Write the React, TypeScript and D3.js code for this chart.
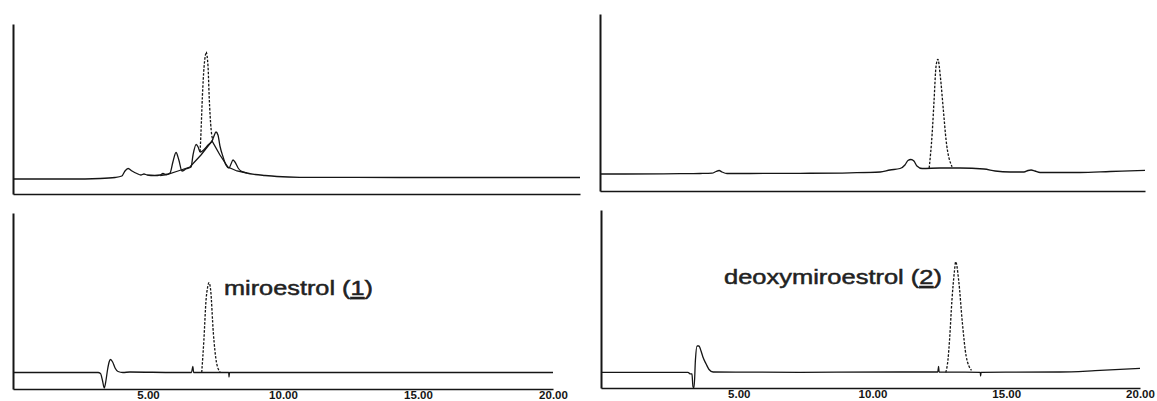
import React, { useEffect, useRef } from 'react';
import * as d3 from 'd3';

type Pt = [number, number];

// retention time ticks (min)
const TIME_TICKS = [5, 10, 15, 20];

// ---- top-left: sample chromatogram (time min, signal) ----
const TL_TRACE: Pt[] = [
  [0, 0], [2.01, 0], [3.07, 0.5], [3.6, 1.5], [3.84, 3], [3.95, 8], [4.06, 10.5], [4.2, 8],
  [4.37, 5.5], [4.51, 4], [4.62, 5], [4.73, 4], [5.0, 3.5], [5.19, 4], [5.29, 5.5], [5.4, 4.5],
  [5.54, 6], [5.64, 17], [5.75, 26.5], [5.85, 19], [5.96, 8], [6.1, 10], [6.28, 12], [6.35, 24],
  [6.46, 34.5], [6.53, 32], [6.6, 27], [6.74, 29.5], [6.88, 34], [7.02, 38], [7.09, 43], [7.16, 47],
  [7.23, 44], [7.3, 33], [7.41, 22], [7.51, 14], [7.62, 11], [7.69, 15], [7.76, 19], [7.83, 17],
  [7.94, 11], [8.04, 8], [8.25, 6], [8.54, 4.5], [8.89, 3.5], [9.31, 2.5], [10.12, 1.7], [13.65, 1.5],
  [20, 1.5],
];
const TL_HUMP: Pt[] = [
  [5.19, 3.5], [5.43, 4.5], [5.82, 8], [6.24, 12], [6.63, 24], [7.02, 38], [7.3, 24], [7.58, 12],
  [7.9, 8], [8.25, 6],
];
const TL_PEAK: Pt[] = [
  [6.6, 27.3], [6.63, 46], [6.68, 82.3], [6.74, 112.3], [6.8, 125.7], [6.81, 127], [6.88, 112.3],
  [6.92, 82.3], [6.99, 49], [7.05, 39],
];

// ---- bottom-left: miroestrol standard ----
const BL_TRACE: Pt[] = [
  [0, 0], [1.74, 0], [3.15, 0], [3.24, -1], [3.31, -7.5], [3.38, -15.5], [3.44, -8.5], [3.5, 2.5],
  [3.56, 10.5], [3.61, 13], [3.69, 10.5], [3.78, 4.5], [3.89, 1], [4.07, 0], [4.33, 0.5], [6.0, 0],
  [6.61, 0], [6.66, 6], [6.69, 0], [7.99, 0], [8.0, -4.5], [8.02, 0], [20, 0],
];
const BL_PEAK: Pt[] = [
  [6.99, 0], [7.07, 32.5], [7.15, 72.5], [7.21, 85.5], [7.26, 89.8], [7.32, 82.5], [7.42, 39.5],
  [7.54, 9.5], [7.67, 0.5],
];

// ---- top-right: sample chromatogram ----
const TR_TRACE: Pt[] = [
  [0, 0], [0.92, 0], [2.94, 0.3], [3.67, 0.5], [4.11, 0.8], [4.26, 2.5], [4.37, 3.5], [4.48, 2],
  [4.66, 0.5], [5.5, 0.5], [7.34, 0.7], [9.17, 1.2], [10.28, 2], [10.64, 4], [11.01, 5.5], [11.19, 9],
  [11.3, 13.5], [11.41, 14.5], [11.52, 13], [11.63, 8], [11.82, 5.5], [12.48, 6], [13.21, 6],
  [14.09, 5], [14.5, 3], [15.05, 2], [15.56, 2], [15.71, 3.5], [15.82, 4], [15.96, 3], [16.15, 1.5],
  [17.61, 1.5], [18.72, 2.5], [20, 3.7],
];
const TR_PEAK: Pt[] = [
  [12.08, 6], [12.19, 40.7], [12.26, 74], [12.33, 107.3], [12.4, 114.7], [12.49, 97.3], [12.6, 64],
  [12.7, 34], [12.92, 7.3],
];

// ---- bottom-right: deoxymiroestrol standard ----
const BR_TRACE: Pt[] = [
  [-0.15, 0], [1.68, 0], [3.1, 0], [3.18, -1.5], [3.25, -1.7], [3.29, -14.7], [3.33, -15.2],
  [3.38, 12.3], [3.44, 26.3], [3.51, 26.3], [3.59, 21.3], [3.66, 15.3], [3.78, 8.3], [3.89, 2.8],
  [4.04, 0.3], [7.29, 0], [11.03, 0.3], [12.44, 0.3], [12.47, 5.8], [12.49, 0.3], [14.03, 0],
  [14.04, -3.7], [14.06, 0], [17.0, 0.3], [18.32, 1.6], [20, 4],
];
const BR_PEAK: Pt[] = [
  [12.74, 0], [12.82, 12.3], [12.88, 32.3], [12.97, 72.3], [13.06, 100.3], [13.11, 110.6],
  [13.22, 92.3], [13.36, 49.3], [13.5, 16.3], [13.7, 2],
];

const LABEL_MIRO = ['miroestrol (', '1', ')'];
const LABEL_DEOXY = ['deoxymiroestrol (', '2', ')'];

interface Panel {
  xRange: [number, number];
  tDomain: [number, number];
  yRange: [number, number];
  vDomain: [number, number];
  smooth: Pt[][];
  straight: Pt[][];
  dashed: Pt[][];
  ticks: boolean;
  label?: { parts: string[]; x: number; y: number; len: number };
}

const PANELS: Panel[] = [
  {
    xRange: [13, 580], tDomain: [0, 20], yRange: [194, 24], vDomain: [-15, 155],
    smooth: [TL_TRACE], straight: [TL_HUMP], dashed: [TL_PEAK], ticks: false,
  },
  {
    xRange: [13, 553], tDomain: [0, 20], yRange: [389, 213], vDomain: [-16.5, 159.5],
    smooth: [BL_TRACE], straight: [], dashed: [BL_PEAK], ticks: true,
    label: { parts: LABEL_MIRO, x: 224, y: 295, len: 149 },
  },
  {
    xRange: [600, 1145], tDomain: [0, 20], yRange: [191, 14], vDomain: [-17, 160],
    smooth: [TR_TRACE], straight: [], dashed: [TR_PEAK], ticks: false,
  },
  {
    xRange: [601, 1140], tDomain: [-0.15, 20], yRange: [388, 210], vDomain: [-15.7, 162.3],
    smooth: [BR_TRACE], straight: [], dashed: [BR_PEAK], ticks: true,
    label: { parts: LABEL_DEOXY, x: 724, y: 284, len: 218 },
  },
];

export default function App() {
  const ref = useRef<SVGSVGElement | null>(null);

  useEffect(() => {
    const svg = d3.select(ref.current);
    svg.selectAll('*').remove();
    const ink = '#151515';

    PANELS.forEach((p) => {
      const x = d3.scaleLinear().domain(p.tDomain).range(p.xRange);
      const y = d3.scaleLinear().domain(p.vDomain).range(p.yRange);
      const g = svg.append('g');

      // x axis
      const xAxis = d3
        .axisBottom(x)
        .tickValues(p.ticks ? TIME_TICKS.filter((t) => t > p.tDomain[0]) : [])
        .tickFormat((d) => d3.format('.2f')(d as number))
        .tickSize(0)
        .tickSizeOuter(0);
      const gx = g.append('g').attr('transform', `translate(0,${p.yRange[0]})`).call(xAxis);
      gx.select('.domain').attr('stroke', ink).attr('stroke-width', 1.6);
      gx.selectAll('text')
        .attr('y', 9.5)
        .attr('dy', 0)
        .attr('fill', ink)
        .attr('font-family', '"Liberation Sans", Arial, sans-serif')
        .attr('font-weight', 'bold')
        .attr('font-size', 11.5);

      // y axis
      const yAxis = d3.axisLeft(y).tickValues([]).tickSize(0).tickSizeOuter(0);
      const gy = g.append('g').attr('transform', `translate(${p.xRange[0]},0)`).call(yAxis);
      gy.select('.domain').attr('stroke', ink).attr('stroke-width', 2);

      const smoothLine = d3
        .line<Pt>()
        .x((d) => x(d[0]))
        .y((d) => y(d[1]))
        .curve(d3.curveMonotoneX);
      const straightLine = d3
        .line<Pt>()
        .x((d) => x(d[0]))
        .y((d) => y(d[1]))
        .curve(d3.curveLinear);

      p.straight.forEach((s) =>
        g.append('path').attr('d', straightLine(s)).attr('fill', 'none').attr('stroke', ink).attr('stroke-width', 1.3)
      );
      p.smooth.forEach((s) =>
        g.append('path').attr('d', smoothLine(s)).attr('fill', 'none').attr('stroke', ink).attr('stroke-width', 1.3).attr('stroke-linejoin', 'round')
      );
      p.dashed.forEach((s) =>
        g.append('path')
          .attr('d', smoothLine(s))
          .attr('fill', 'none')
          .attr('stroke', ink)
          .attr('stroke-width', 1.3)
          .attr('stroke-dasharray', '2.5 1.5')
      );

      if (p.label) {
        const t = g
          .append('text')
          .attr('x', p.label.x)
          .attr('y', p.label.y)
          .attr('textLength', p.label.len)
          .attr('lengthAdjust', 'spacingAndGlyphs')
          .attr('font-family', '"Liberation Sans", Arial, sans-serif')
          .attr('font-size', 21)
          .attr('fill', '#222')
          .attr('stroke', '#222')
          .attr('stroke-width', 0.5);
        t.append('tspan').text(p.label.parts[0]);
        t.append('tspan').attr('text-decoration', 'underline').style('text-decoration', 'underline').text(p.label.parts[1]);
        t.append('tspan').text(p.label.parts[2]);
      }
    });
  }, []);

  return (
    <svg
      ref={ref}
      width={1157}
      height={401}
      style={{ position: 'absolute', left: 0, top: 0, background: '#fff' }}
    />
  );
}
